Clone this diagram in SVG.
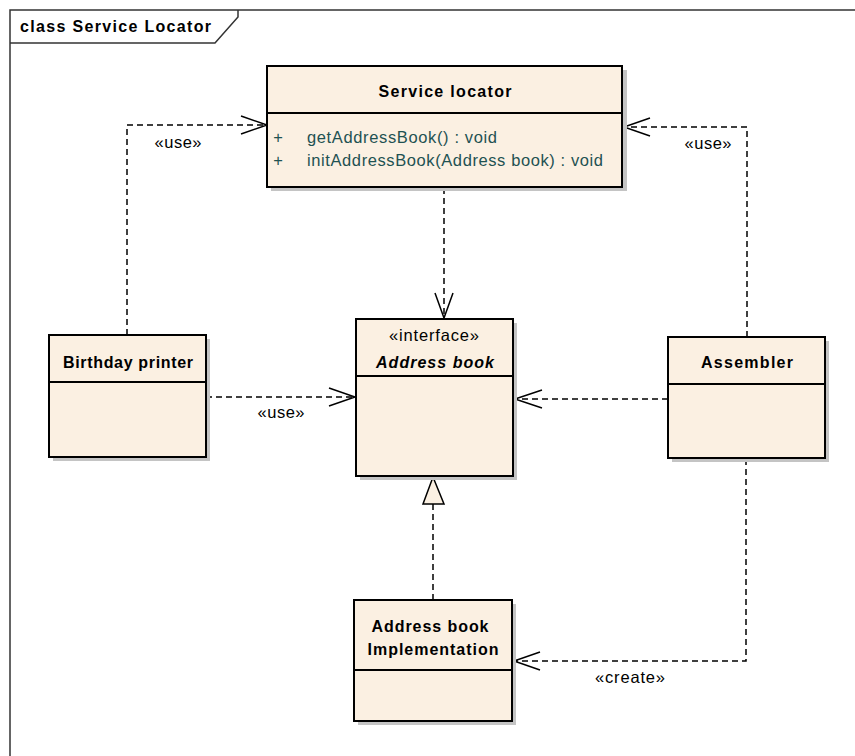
<svg xmlns="http://www.w3.org/2000/svg" width="855" height="756" viewBox="0 0 855 756">
<style>
.box{fill:#fbf0e2;stroke:#000;stroke-width:2}
.shadow{fill:#c4c4c4}
.div{stroke:#000;stroke-width:2}
.name{font-family:"Liberation Sans",Arial,sans-serif;font-weight:bold;font-size:16px;fill:#000}
.ital{font-style:italic}
.txt{font-family:"Liberation Sans",Arial,sans-serif;font-size:16.5px;fill:#000}
.op{font-family:"Liberation Sans",Arial,sans-serif;font-size:16.5px;fill:#1f5252}
.dash{fill:none;stroke:#000;stroke-width:1.5;stroke-dasharray:6,4}
.head{fill:none;stroke:#000;stroke-width:1.5}
</style>
<rect width="855" height="756" fill="#fff"/>
<g id="frame">
<path d="M10,756 V10 H855" fill="none" stroke="#333" stroke-width="1.5"/>
<path d="M10,43 H215 L238,17 V10" fill="none" stroke="#333" stroke-width="1.5"/>
<text class="name" x="20" y="32" textLength="191" lengthAdjust="spacing">class Service Locator</text>
</g>
<g id="connectors">
<path class="dash" d="M127,335 V125 H265"/>
<path class="head" d="M241,116 L267,125 L241,134"/>
<text class="txt" x="178" y="148" text-anchor="middle" textLength="47" lengthAdjust="spacing">«use»</text>
<path class="dash" d="M747,337 V127 H625"/>
<path class="head" d="M650,118 L624,127 L650,136"/>
<text class="txt" x="708" y="149" text-anchor="middle" textLength="47" lengthAdjust="spacing">«use»</text>
<path class="dash" d="M444,188 V317"/>
<path class="head" d="M435,293 L444,318 L453,293"/>
<path class="dash" d="M206,397 H354"/>
<path class="head" d="M329,388 L355,397 L329,406"/>
<text class="txt" x="281" y="418" text-anchor="middle" textLength="47" lengthAdjust="spacing">«use»</text>
<path class="dash" d="M668,399 H516"/>
<path class="head" d="M542,390 L515,399 L542,408"/>
<path class="dash" d="M433,504 V600"/>
<path d="M433,477 L444,504 L423,504 Z" fill="#fbf0e2" stroke="#000" stroke-width="1.5"/>
<path class="dash" d="M746,459 V661 H515"/>
<path class="head" d="M540,652 L514,661 L540,670"/>
<text class="txt" x="630" y="683" text-anchor="middle" textLength="70" lengthAdjust="spacing">«create»</text>
</g>
<g id="service-locator">
<rect class="shadow" x="271" y="70" width="356" height="121"/>
<rect class="box" x="267" y="66" width="355" height="121"/>
<line class="div" x1="267" y1="113" x2="622" y2="113"/>
<text class="name" x="445" y="97" text-anchor="middle" textLength="133" lengthAdjust="spacing">Service locator</text>
<text class="op" x="278" y="143" text-anchor="middle">+</text>
<text class="op" x="307" y="143" textLength="190" lengthAdjust="spacing">getAddressBook() : void</text>
<text class="op" x="278" y="166" text-anchor="middle">+</text>
<text class="op" x="307" y="166" textLength="296" lengthAdjust="spacing">initAddressBook(Address book) : void</text>
</g>
<g id="birthday-printer">
<rect class="shadow" x="53" y="339" width="157" height="122"/>
<rect class="box" x="49" y="335" width="157" height="122"/>
<line class="div" x1="49" y1="382" x2="206" y2="382"/>
<text class="name" x="128" y="368" text-anchor="middle" textLength="130" lengthAdjust="spacing">Birthday printer</text>
</g>
<g id="address-book">
<rect class="shadow" x="360" y="323" width="157" height="157"/>
<rect class="box" x="356" y="319" width="157" height="157"/>
<line class="div" x1="356" y1="376" x2="513" y2="376"/>
<text class="txt" x="434" y="341" text-anchor="middle" textLength="90" lengthAdjust="spacing">«interface»</text>
<text class="name ital" x="435" y="368" text-anchor="middle" textLength="118" lengthAdjust="spacing">Address book</text>
</g>
<g id="assembler">
<rect class="shadow" x="672" y="341" width="157" height="121"/>
<rect class="box" x="668" y="337" width="157" height="121"/>
<line class="div" x1="668" y1="384" x2="825" y2="384"/>
<text class="name" x="747" y="368" text-anchor="middle" textLength="92" lengthAdjust="spacing">Assembler</text>
</g>
<g id="address-book-impl">
<rect class="shadow" x="358" y="604" width="158" height="121"/>
<rect class="box" x="354" y="600" width="158" height="121"/>
<line class="div" x1="354" y1="670" x2="512" y2="670"/>
<text class="name" x="430" y="632" text-anchor="middle" textLength="117" lengthAdjust="spacing">Address book</text>
<text class="name" x="433" y="655" text-anchor="middle" textLength="131" lengthAdjust="spacing">Implementation</text>
</g>
</svg>
